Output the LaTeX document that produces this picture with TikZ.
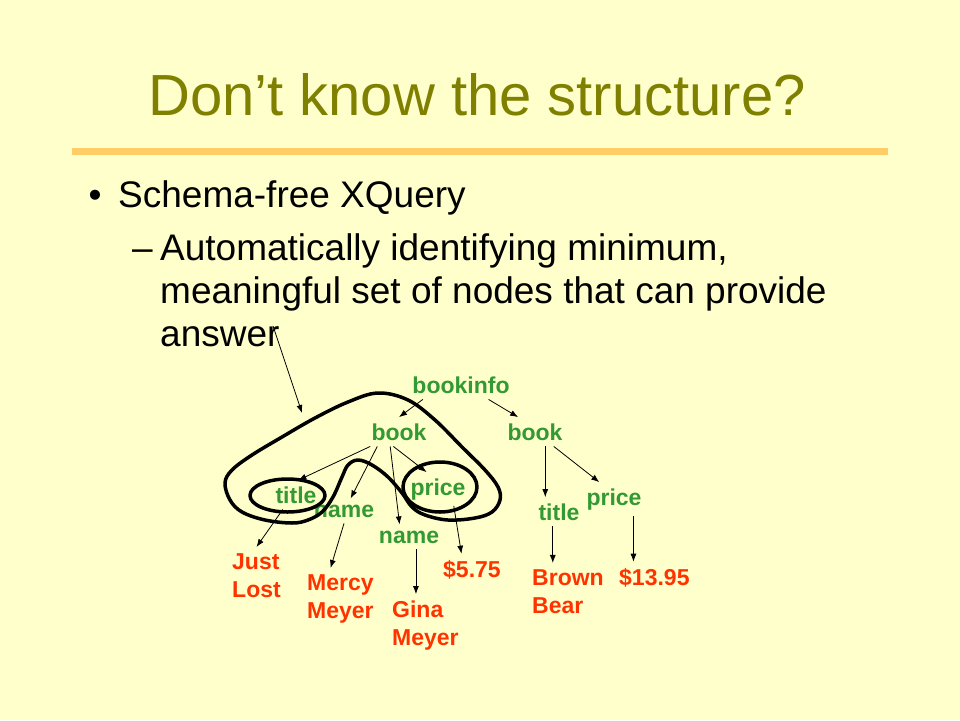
\documentclass[tikz,border=0pt]{standalone}
\usepackage{fontspec}
\setmainfont{Liberation Sans}
\usetikzlibrary{arrows.meta}
\definecolor{slidebg}{HTML}{FFFFCC}
\definecolor{titleolive}{HTML}{808000}
\definecolor{rulegold}{HTML}{FFCC66}
\definecolor{taggreen}{HTML}{339933}
\definecolor{valred}{HTML}{FF3300}
\tikzset{
	bodytext/.style={font=\fontsize{37}{43}\selectfont, inner sep=0pt},
	tag/.style={text=taggreen, font=\fontsize{23}{28}\selectfont\bfseries, inner sep=6pt, anchor=base},
	val/.style={text=valred, font=\fontsize{23}{28}\selectfont\bfseries, inner sep=6pt, align=left, anchor=base west},
	ptr/.style={-{Latex[length=8pt,width=6pt]}, line width=0.8pt},
	lasso/.style={line width=3.5pt, line join=round},
}

\begin{document}
\begin{tikzpicture}[x=1pt, y=-1pt]
		%%%%% START %%%%%
		\fill[slidebg] (0, 0) rectangle (960, 720);
		
		\node[font=\fontsize{58}{64}\selectfont, text=titleolive, anchor=base] (heading) at (477, 115) {Don’t know the structure?};
		\fill[rulegold] (72, 148) rectangle (888, 155);
		
		\node[bodytext, anchor=base] (dot) at (95, 207) {•};
		\node[bodytext, anchor=base west] (schema) at (118, 207) {Schema-free XQuery};
		\node[bodytext, anchor=base west] (dash) at (132, 260) {–};
		\node[bodytext, anchor=base west] (line1) at (160, 260) {Automatically identifying minimum,};
		\node[bodytext, anchor=base west] (line2) at (160, 303) {meaningful set of nodes that can provide};
		\node[bodytext, anchor=base west] (answer) at (160, 346) {answer};
		
		% tree
		\node[tag] (bookinfo) at (461, 393) {bookinfo};
		\node[tag] (book1) at (399, 440) {book};
		\node[tag] (book2) at (535, 440) {book};
		\node[tag] (title1) at (296, 503) {title};
		\node[tag] (name1) at (344, 517) {name};
		\node[tag] (price1) at (438, 495) {price};
		\node[tag] (name2) at (409, 543) {name};
		\node[tag] (title2) at (559, 520) {title};
		\node[tag] (price2) at (614, 505) {price};
		
		% base of a two line node is its last line
		\node[val] (just) at (226, 597) {Just\\Lost};
		\node[val] (mercy) at (301, 618) {Mercy\\Meyer};
		\node[val] (gina) at (386, 645) {Gina\\Meyer};
		\node[val] (p1val) at (437, 577) {\$5.75};
		\node[val] (brown) at (526, 613) {Brown\\Bear};
		\node[val] (p2val) at (613, 585) {\$13.95};
		
		\draw[ptr] (bookinfo.201) -- (book1.north);
		\draw[ptr] (bookinfo.332) -- (book2.139);
		\draw[ptr] (book1.207) -- (title1.81);
		\draw[ptr] (book1.214) -- (name1.62);
		\draw[ptr] (book1.239) -- (name2.127);
		\draw[ptr] (book1.249) -- (price1.124);
		\draw[ptr] (price1.313) -- (p1val.124);
		\draw[ptr] (title1.228) -- (just.north);
		\draw[ptr] (name1.south) -- (mercy.108);
		\draw[ptr] (name2.-61) -- (name2.-61 |- gina.north);
		\draw[ptr] (book2.-55) -- (book2.-55 |- title2.north);
		\draw[ptr] (book2.-38) -- (price2.131);
		\draw[ptr] (title2.247) -- (title2.247 |- brown.north);
		\draw[ptr] (price2.-41) -- (price2.-41 |- p2val.north);
		
		\coordinate (loophit) at (302, 413);
		\draw[ptr] (answer.11) -- (loophit);
		
		% lassos
		\draw[lasso] (287.5, 495.5) ellipse (37.5 and 16.5);
		\draw[lasso] (440, 487) ellipse (37 and 25);
		\draw[lasso] plot[smooth cycle, tension=0.6] coordinates {
			(378, 393) (408, 400) (435, 420) (462, 447) (485, 470) (498, 487) (500, 500)
			(492, 512) (475, 518) (448, 520) (425, 515) (412, 507) (402, 493) (388, 477)
			(372, 465) (358, 460) (348, 465) (342, 477) (333, 497) (322, 512) (308, 520)
			(292, 523) (265, 520) (242, 512) (230, 500) (225, 483) (232, 470) (252, 455)
			(282, 437) (315, 418) (348, 402)};
		%%%%% END %%%%%
	\end{tikzpicture}
\end{document}
